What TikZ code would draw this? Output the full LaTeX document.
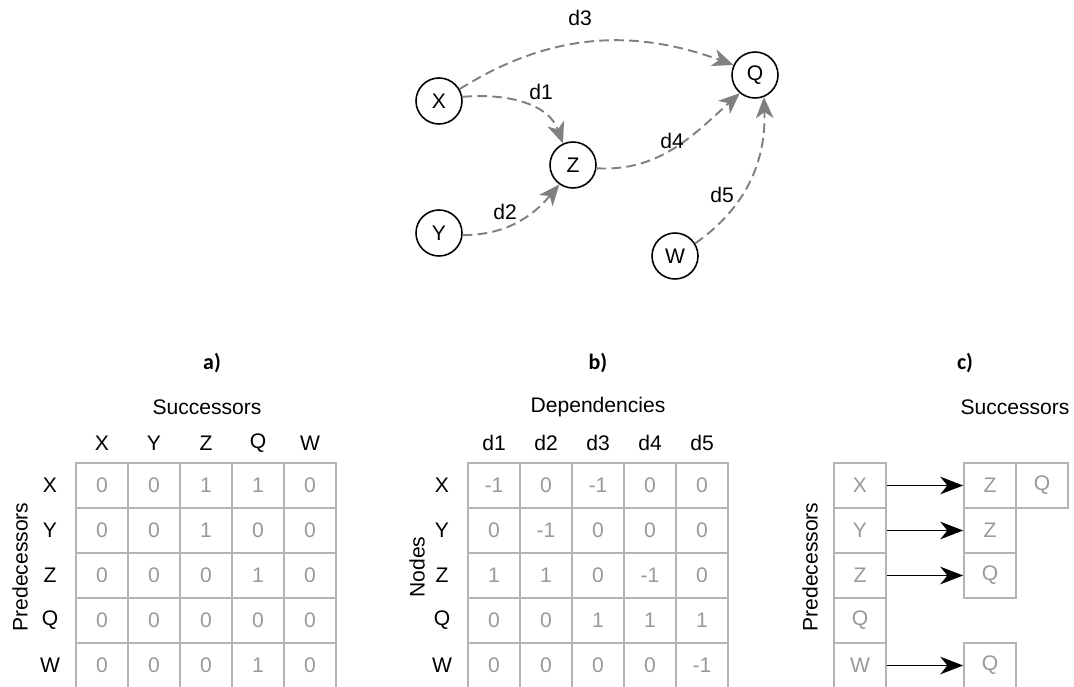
\documentclass[tikz,border=0pt]{standalone}
\usepackage{fontspec}
\setmainfont{Liberation Sans}
\newfontfamily\headfont{Carlito}
\usetikzlibrary{arrows.meta}
\definecolor{edgegray}{HTML}{808080}
\definecolor{gridgray}{HTML}{B3B3B3}
\definecolor{valgray}{HTML}{999999}

\begin{document}
\begin{tikzpicture}[x=0.02cm,y=-0.02cm,font=\fontsize{12}{14}\selectfont]
\tikzset{vert/.style={draw,circle,line width=.9pt,minimum size=.92cm,inner sep=0pt},
  dep/.style={draw=edgegray,line width=1.1pt,dash pattern=on 5.5pt off 3pt,
    -{Stealth[length=12pt,width=10pt,inset=3.5pt]}},
  cell/.style={draw=gridgray,line width=1pt,text=valgray,minimum width=1.04cm,minimum height=.9cm,inner sep=0pt},
  succ/.style={line width=.9pt,-{Stealth[length=13pt,width=10pt,inset=4pt]}},
  title/.style={font=\headfont\bfseries\fontsize{12.5}{14}\selectfont}}
\useasboundingbox (0,0) rectangle (1074,686);

% dependency graph
\node[vert] (X) at (439,101) {X};
\node[vert] (Y) at (439,233) {Y};
\node[vert] (Z) at (573,165) {Z};
\node[vert] (Q) at (755,75) {Q};
\node[vert] (W) at (675,256) {W};
\draw[dep] (X.30) to[out=32,in=160] (Q.155);
\draw[dep] (X.10) to[out=5,in=110] (Z.115);
\draw[dep] (Y.-5) to[out=0,in=230] (Z.235);
\draw[dep] (Z.-8) to[out=-3,in=222] (Q.230);
\draw[dep] (W.32) to[out=35,in=-88] (Q.-68);
\node (l3) at (580,18) {d3};
\node (l1) at (541,92) {d1};
\node (l4) at (672,141) {d4};
\node (l2) at (505,212) {d2};
\node (l5) at (722,195) {d5};

% a) adjacency matrix
\begin{scope}
  \node[title] (ta) at (212,363) {a)};
  \node (sa) at (207,407) {Successors};
  \node[rotate=90] (pa) at (20,567) {Predecessors};
  \foreach \c [count=\j] in {X,Y,Z,Q,W}
    \node (ca\j) at (50+52*\j,443) {\c};
  \foreach \r/\vals [count=\i] in {X/{0,0,1,1,0},Y/{0,0,1,0,0},Z/{0,0,0,1,0},Q/{0,0,0,0,0},W/{0,0,0,1,0}} {
    \node (ra\i) at (50,440.5+45*\i) {\r};
    \foreach \v [count=\j] in \vals
      \node[cell] (a\i\j) at (50+52*\j,440.5+45*\i) {\v};
  }
\end{scope}

% b) incidence matrix
\begin{scope}
  \node[title] (tb) at (598,363) {b)};
  \node (db) at (598,407) {Dependencies};
  \node[rotate=90] (nb) at (417,567) {Nodes};
  \foreach \j in {1,...,5}
    \node (cb\j) at (442+52*\j,443) {d\j};
  \foreach \r/\vals [count=\i] in {X/{-1,0,-1,0,0},Y/{0,-1,0,0,0},Z/{1,1,0,-1,0},Q/{0,0,1,1,1},W/{0,0,0,0,-1}} {
    \node (rb\i) at (442,440.5+45*\i) {\r};
    \foreach \v [count=\j] in \vals
      \node[cell] (b\i\j) at (442+52*\j,440.5+45*\i) {\v};
  }
\end{scope}

% c) successor lists
\begin{scope}
  \node[title] (tc) at (965,363) {c)};
  \node (sc) at (1015,407) {Successors};
  \node[rotate=90] (pc) at (810,567) {Predecessors};
  \foreach \r [count=\i] in {X,Y,Z,Q,W}
    \node[cell] (p\r) at (860,440.5+45*\i) {\r};
  \node[cell] (sX1) at (990,485.5) {Z};
  \node[cell] (sX2) at (1042,485.5) {Q};
  \node[cell] (sY1) at (990,530.5) {Z};
  \node[cell] (sZ1) at (990,575.5) {Q};
  \node[cell] (sW1) at (990,665.5) {Q};
  \draw[succ] (pX) -- (sX1);
  \draw[succ] (pY) -- (sY1);
  \draw[succ] (pZ) -- (sZ1);
  \draw[succ] (pW) -- (sW1);
\end{scope}
\end{tikzpicture}
\end{document}
